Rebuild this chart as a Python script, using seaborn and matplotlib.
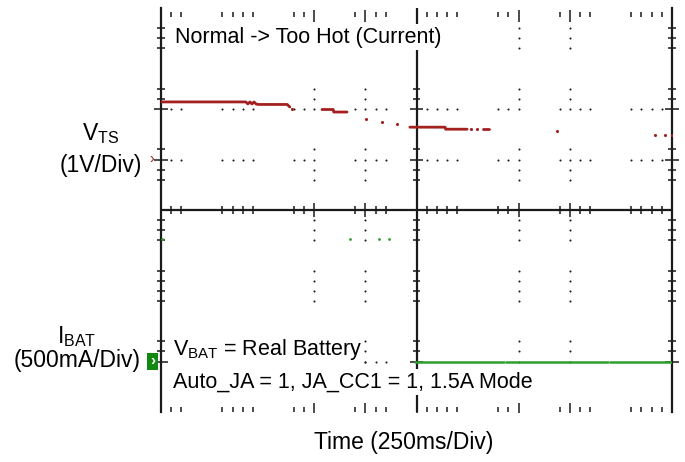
import numpy as np
import pandas as pd
import matplotlib
matplotlib.use("Agg")
import matplotlib.pyplot as plt
from matplotlib.patches import Rectangle
import seaborn as sns

# ---------------- data (x: time in divisions of 250 ms, y: screen divisions) -------------
# V_TS trace (red), solid pieces (segment id separates the pieces)
vts_t = [0.00, 1.66, 1.70, 1.74, 1.78, 1.82, 1.86, 1.90, 2.47, 2.52,
         3.15, 3.37, 3.38, 3.64,
         4.87, 5.56, 5.57, 5.99,
         6.30, 6.42]
vts_v = [2.14, 2.14, 2.10, 2.14, 2.10, 2.14, 2.10, 2.09, 2.09, 2.04,
         1.99, 1.99, 1.94, 1.94,
         1.64, 1.64, 1.60, 1.60,
         1.60, 1.60]
vts_seg = [0] * 10 + [1] * 4 + [2] * 4 + [3] * 2
# V_TS sparse sample dots
vts_dot_t = [2.56, 4.01, 4.32, 4.62, 6.06, 6.18, 7.75, 9.67, 9.86, 10.0]
vts_dot_v = [2.00, 1.80, 1.74, 1.70, 1.60, 1.60, 1.56, 1.49, 1.49, 1.49]

# I_BAT trace (green)
ibat_t = [4.98, 6.71, 6.75, 8.75, 8.79, 10.0]
ibat_v = [-3.0, -3.0, -3.0, -3.0, -3.0, -3.0]
ibat_seg = [0, 0, 1, 1, 2, 2]
ibat_dot_t = [0.02, 3.70, 4.26, 4.46]
ibat_dot_v = [-0.58, -0.58, -0.58, -0.58]

VTS_REF = 1.0     # channel ground marker levels
IBAT_REF = -3.0

# visible graticule positions (divisions)
x_minor = [0.2, 0.4, 1.2, 1.4, 1.6, 1.8, 2.6, 2.8, 3.8, 4.2, 4.4, 5.2, 5.4, 5.6, 5.8,
           6.6, 6.8, 7.8, 8.2, 8.4, 9.2, 9.4, 9.6, 9.8]
x_major = [3, 4, 7, 8]
y_minor = [3.6, 3.4, 3.2, 2.4, 2.2, 1.2, 0.8, 0.6, -0.2, -0.4, -0.6,
           -1.2, -1.4, -1.6, -1.8, -2.6, -2.8]
y_major = [2, 1, -3]
y_dotted = [2, 1]

# ---------------- style ----------------
sns.set_style("white")
plt.rcParams['font.family'] = ['Liberation Sans', 'DejaVu Sans']
plt.rcParams['mathtext.fontset'] = 'custom'
plt.rcParams['mathtext.rm'] = 'Liberation Sans'
plt.rcParams['mathtext.it'] = 'Liberation Sans:italic'

RED = '#a3201f'
GREEN = '#2e9e2e'
INK = '#1a1a1a'
FS = 15.5
FS_LAB = 16.5

fig = plt.figure(figsize=(6.85, 4.62), dpi=100)
ax = fig.add_axes([161 / 685, 1 - 412 / 462, 511 / 685, 404 / 462])
ax.set_xlim(0, 10)
ax.set_ylim(-4, 4)
ax.set_xticks([])
ax.set_yticks([])
for s in ['top', 'bottom']:
    ax.spines[s].set_visible(False)
for s in ['left', 'right']:
    ax.spines[s].set_linewidth(1.6)
    ax.spines[s].set_color(INK)

# ---------------- graticule ----------------
ax.axhline(0, color=INK, lw=1.6, zorder=2)
ax.axvline(5, color=INK, lw=1.6, zorder=2)

lk = dict(color=INK, lw=1.1, zorder=2, clip_on=False)
# ticks on top/bottom edges and on the centre horizontal line
ax.vlines(x_minor, 3.82, 3.92, **lk)
ax.vlines(x_major + [5], 3.72, 3.96, **lk)
ax.vlines(x_minor, -4.0, -3.9, **lk)
ax.vlines(x_major + [5], -4.02, -3.82, **lk)
ax.vlines(x_minor, -0.07, 0.07, **lk)
ax.vlines(x_major, -0.13, 0.13, **lk)
# ticks on left/right edges and on the centre vertical line
for xc in [0, 5, 10]:
    ax.hlines(y_minor, xc - 0.07, xc + 0.07, **lk)
    ax.hlines(y_major, xc - 0.13, xc + 0.13, **lk)

# dotted graticule
dot_x, dot_y = [], []
for xv in x_major:
    for yv in y_minor + y_major:
        dot_x.append(xv); dot_y.append(yv)
for yv in y_dotted:
    for xv in x_minor:
        dot_x.append(xv); dot_y.append(yv)
for xv in [4.0, 4.2, 4.4]:
    dot_x.append(xv); dot_y.append(IBAT_REF)
ax.scatter(dot_x, dot_y, s=2.2, color=INK, linewidths=0, zorder=2)

# ---------------- traces ----------------
df_vts = pd.DataFrame({'t': vts_t, 'v': vts_v, 'seg': vts_seg})
sns.lineplot(data=df_vts, x='t', y='v', units='seg', estimator=None, color=RED,
             lw=2.0, ax=ax, zorder=3, legend=False)
sns.scatterplot(x=vts_dot_t, y=vts_dot_v, color=RED, s=5, linewidth=0, ax=ax, zorder=3)

df_ib = pd.DataFrame({'t': ibat_t, 'v': ibat_v, 'seg': ibat_seg})
sns.lineplot(data=df_ib, x='t', y='v', units='seg', estimator=None, color=GREEN,
             lw=1.8, ax=ax, zorder=3, legend=False)
sns.scatterplot(x=ibat_dot_t, y=ibat_dot_v, color=GREEN, s=4, linewidth=0, ax=ax, zorder=3)
ax.set_xlabel('')
ax.set_ylabel('')

# channel markers
ax.text(-0.19, VTS_REF, '›', color=RED, fontsize=10, ha='center', va='center',
        clip_on=False, zorder=5)
ax.add_patch(Rectangle((-0.28, IBAT_REF - 0.16), 0.22, 0.33, facecolor='#0f8a0f',
                       edgecolor='none', clip_on=False, zorder=5))
ax.text(-0.17, IBAT_REF, '›', color='white', fontsize=11, ha='center', va='center',
        clip_on=False, zorder=6, fontweight='bold')

# ---------------- texts ----------------
bb = dict(facecolor='white', edgecolor='none', pad=1.5)
fig.text(175 / 685, 1 - 37 / 462, 'Normal -> Too Hot (Current)', fontsize=FS,
         ha='left', va='center', color='black', bbox=bb, zorder=10)
fig.text(173 / 685, 1 - 350 / 462, r'V$_{\mathrm{BAT}}$ = Real Battery', fontsize=FS,
         ha='left', va='center', color='black', bbox=bb, zorder=10)
fig.text(173 / 685, 1 - 382 / 462, 'Auto_JA = 1, JA_CC1 = 1, 1.5A Mode', fontsize=FS,
         ha='left', va='center', color='black', bbox=bb, zorder=10)

fig.text(101 / 685, 1 - 134 / 462, r'V$_{\mathrm{TS}}$', fontsize=FS_LAB, ha='center',
         va='center', color='black')
fig.text(101 / 685, 1 - 165 / 462, '(1V/Div)', fontsize=FS_LAB, ha='center', va='center',
         color='black')
fig.text(77 / 685, 1 - 337 / 462, r'I$_{\mathrm{BAT}}$', fontsize=FS_LAB, ha='center',
         va='center', color='black')
fig.text(77 / 685, 1 - 361 / 462, '(500mA/Div)', fontsize=FS_LAB, ha='center', va='center',
         color='black')
fig.text(404 / 685, 1 - 442 / 462, 'Time (250ms/Div)', fontsize=FS_LAB, ha='center',
         va='center', color='black')

fig.savefig('out.png', dpi=100)
